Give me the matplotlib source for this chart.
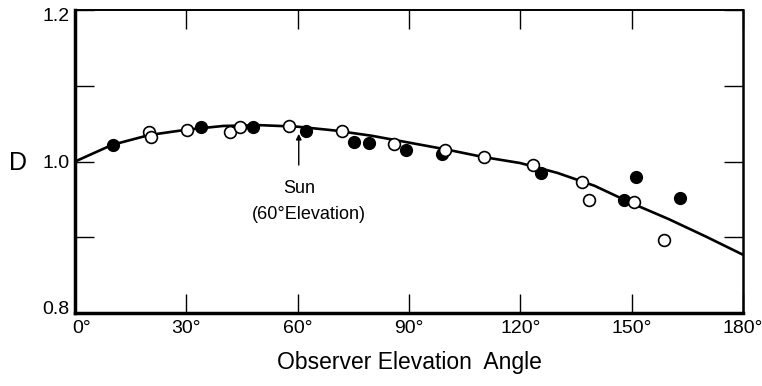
import matplotlib
matplotlib.use("Agg")
import matplotlib.pyplot as plt
from matplotlib.ticker import FixedLocator
from matplotlib.transforms import ScaledTranslation

plt.rcParams['font.family'] = ['Liberation Sans', 'DejaVu Sans']

# Fitted curve of D against observer elevation angle (degrees)
curve_angle = [0, 10, 20, 30, 40, 50, 60, 70, 80, 90, 100, 110, 120, 130, 140, 150, 160, 170, 180]
curve_d = [1.000, 1.022, 1.035, 1.042, 1.047, 1.048, 1.046, 1.041, 1.034, 1.025,
           1.016, 1.006, 0.998, 0.985, 0.968, 0.945, 0.924, 0.901, 0.877]

# Measurements, filled symbols
filled_angle = [10.2, 34.0, 48.0, 62.2, 75.2, 79.2, 89.2, 98.9, 125.6, 148.0, 151.2, 163.0]
filled_d = [1.022, 1.045, 1.045, 1.040, 1.026, 1.024, 1.015, 1.010, 0.985, 0.949, 0.980, 0.952]

# Measurements, open symbols
open_angle = [20.0, 20.4, 30.1, 41.8, 44.5, 57.7, 72.0, 86.0, 99.7, 110.2, 123.4, 136.6, 138.5, 150.6, 158.7]
open_d = [1.039, 1.032, 1.041, 1.039, 1.045, 1.047, 1.040, 1.023, 1.015, 1.006, 0.995, 0.973, 0.949, 0.946, 0.896]

x_ticks = [0, 30, 60, 90, 120, 150, 180]
x_tick_labels = ["0°", "30°", "60°", "90°", "120°", "150°", "180°"]
y_label_ticks = [0.8, 1.0, 1.2]
y_tick_labels = ["0.8", "1.0", "1.2"]

fig = plt.figure(figsize=(7.62, 3.86), dpi=100)
ax = fig.add_axes([0.0984, 0.189, 0.8766, 0.785])

ax.plot(curve_angle, curve_d, color="black", lw=1.9, zorder=2)
ax.plot(filled_angle, filled_d, "o", ms=8.5, mfc="black", mec="black", zorder=3)
ax.plot(open_angle, open_d, "o", ms=8.5, mfc="white", mec="black", mew=1.2, zorder=4)

ax.set_xlim(0, 180)
ax.set_ylim(0.8, 1.2)

# Inward ticks on all four sides; labels only on the left and bottom
ax.xaxis.set_major_locator(FixedLocator(x_ticks))
ax.set_xticklabels(x_tick_labels, fontsize=14)
ax.yaxis.set_major_locator(FixedLocator(y_label_ticks))
ax.set_yticklabels(y_tick_labels, fontsize=14)
ax.yaxis.set_minor_locator(FixedLocator([0.9, 1.1]))
ax.tick_params(axis="both", which="both", direction="in", length=14, width=1.0,
               top=True, right=True)
ax.tick_params(axis="x", pad=5)
ax.tick_params(axis="y", pad=4)
ax.tick_params(axis="y", which="minor", labelleft=False)

# Nudge the end labels so the corner labels stay apart
px = 1 / 72
ylabels = ax.get_yticklabels()
ylabels[0].set_transform(ylabels[0].get_transform() + ScaledTranslation(0, 4 * px, fig.dpi_scale_trans))
ylabels[2].set_transform(ylabels[2].get_transform() + ScaledTranslation(0, -3 * px, fig.dpi_scale_trans))
xlabels = ax.get_xticklabels()
xlabels[0].set_transform(xlabels[0].get_transform() + ScaledTranslation(5 * px, 0, fig.dpi_scale_trans))

for side, w in (("left", 2.5), ("bottom", 2.5), ("top", 1.4), ("right", 1.8)):
    ax.spines[side].set_linewidth(w)

ax.set_xlabel("Observer Elevation  Angle", fontsize=16.5, labelpad=10)
fig.text(0.024, 0.578, "D", fontsize=18, ha="center", va="center")

ax.annotate("Sun", xy=(60.3, 1.0365), xytext=(60.3, 0.964),
            ha="center", va="center", fontsize=13,
            arrowprops=dict(arrowstyle="-|>", color="black", lw=1.0,
                            mutation_scale=8, shrinkA=9, shrinkB=0))
ax.text(63.0, 0.9305, "(60°Elevation)", ha="center", va="center", fontsize=13)

fig.savefig("out.png", dpi=100)
